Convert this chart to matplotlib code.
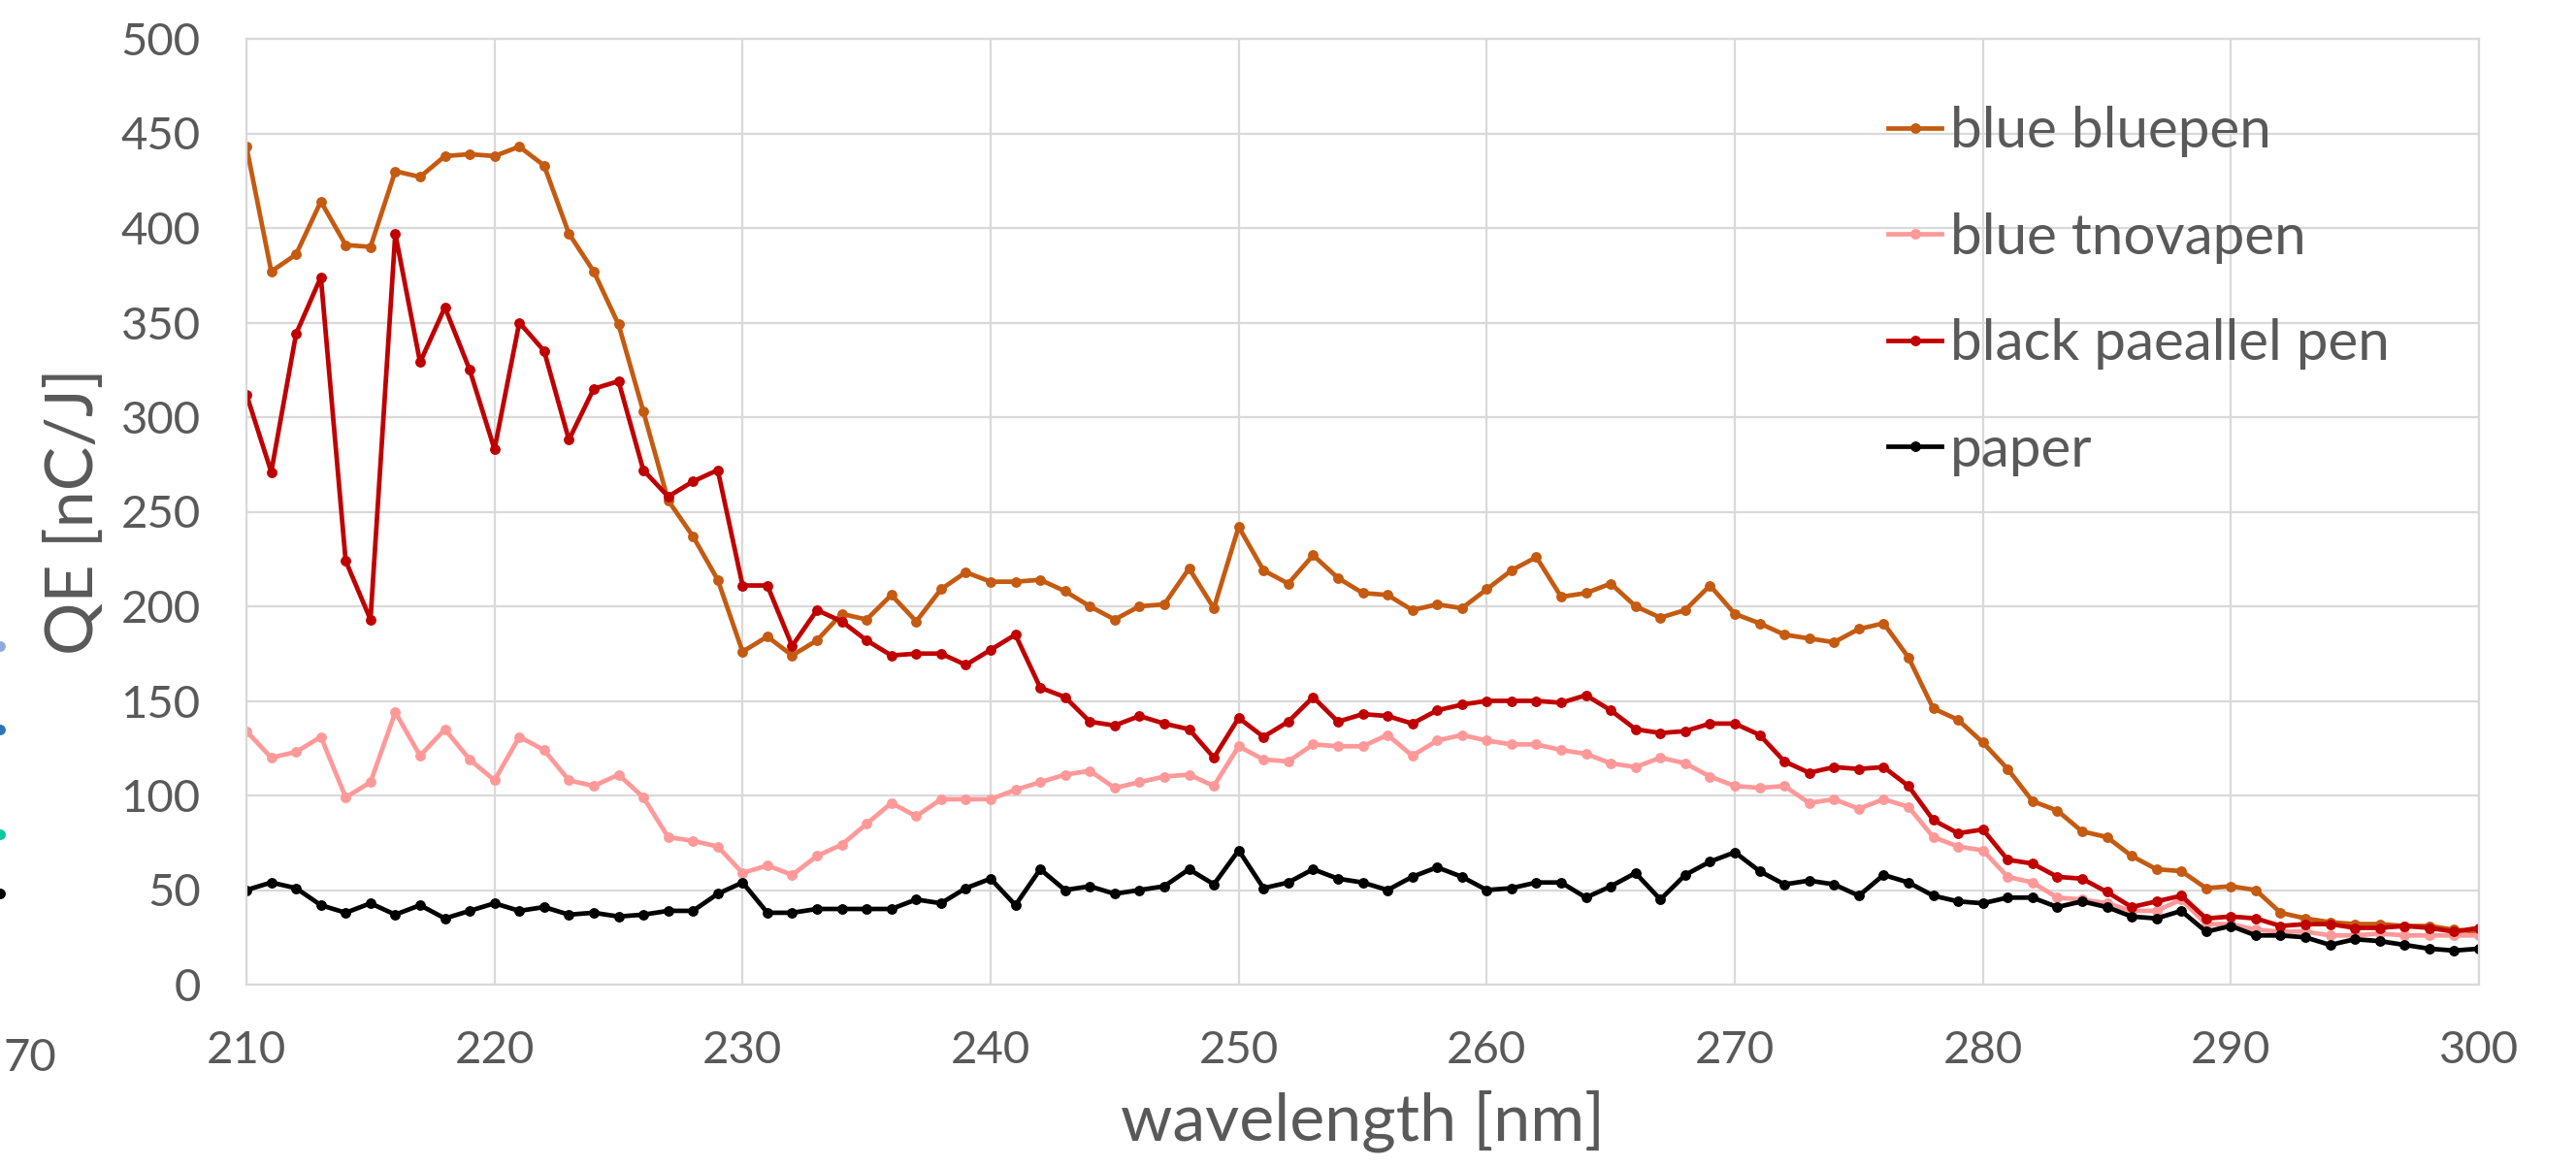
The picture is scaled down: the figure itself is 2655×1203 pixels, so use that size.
import numpy as np
import matplotlib
matplotlib.use("Agg")
import matplotlib.pyplot as plt
from matplotlib.lines import Line2D

plt.rcParams["font.family"] = ["Lato", "DejaVu Sans"]

TEXT_COLOR = "#595959"
GRID_COLOR = "#D9D9D9"

wavelength = list(range(210, 301))

blue_bluepen = [
    443, 377, 386, 414, 391, 390, 430, 427, 438, 439,
    438, 443, 433, 397, 377, 349, 303, 256, 237, 214,
    176, 184, 174, 182, 196, 193, 206, 192, 209, 218,
    213, 213, 214, 208, 200, 193, 200, 201, 220, 199,
    242, 219, 212, 227, 215, 207, 206, 198, 201, 199,
    209, 219, 226, 205, 207, 212, 200, 194, 198, 211,
    196, 191, 185, 183, 181, 188, 191, 173, 146, 140,
    128, 114, 97, 92, 81, 78, 68, 61, 60, 51,
    52, 50, 38, 35, 33, 32, 32, 31, 31, 29,
    28,
]

blue_tnovapen = [
    134, 120, 123, 131, 99, 107, 144, 121, 135, 119,
    108, 131, 124, 108, 105, 111, 99, 78, 76, 73,
    59, 63, 58, 68, 74, 85, 96, 89, 98, 98,
    98, 103, 107, 111, 113, 104, 107, 110, 111, 105,
    126, 119, 118, 127, 126, 126, 132, 121, 129, 132,
    129, 127, 127, 124, 122, 117, 115, 120, 117, 110,
    105, 104, 105, 96, 98, 93, 98, 94, 78, 73,
    71, 57, 54, 46, 45, 43, 39, 39, 45, 32,
    32, 29, 28, 28, 26, 26, 27, 26, 26, 26,
    26,
]

black_parallel_pen = [
    312, 271, 344, 374, 224, 193, 397, 329, 358, 325,
    283, 350, 335, 288, 315, 319, 272, 258, 266, 272,
    211, 211, 179, 198, 192, 182, 174, 175, 175, 169,
    177, 185, 157, 152, 139, 137, 142, 138, 135, 120,
    141, 131, 139, 152, 139, 143, 142, 138, 145, 148,
    150, 150, 150, 149, 153, 145, 135, 133, 134, 138,
    138, 132, 118, 112, 115, 114, 115, 105, 87, 80,
    82, 66, 64, 57, 56, 49, 41, 44, 47, 35,
    36, 35, 31, 32, 32, 30, 30, 31, 30, 28,
    30,
]

paper = [
    50, 54, 51, 42, 38, 43, 37, 42, 35, 39,
    43, 39, 41, 37, 38, 36, 37, 39, 39, 48,
    54, 38, 38, 40, 40, 40, 40, 45, 43, 51,
    56, 42, 61, 50, 52, 48, 50, 52, 61, 53,
    71, 51, 54, 61, 56, 54, 50, 57, 62, 57,
    50, 51, 54, 54, 46, 52, 59, 45, 58, 65,
    70, 60, 53, 55, 53, 47, 58, 54, 47, 44,
    43, 46, 46, 41, 44, 41, 36, 35, 39, 28,
    31, 26, 26, 25, 21, 24, 23, 21, 19, 18,
    19,
]

series = [
    ("blue bluepen", blue_bluepen, "#C55A11"),
    ("blue tnovapen", blue_tnovapen, "#FF9999"),
    ("black paeallel pen", black_parallel_pen, "#C00000"),
    ("paper", paper, "#000000"),
]

W, H = 2655, 1203
fig = plt.figure(figsize=(W / 100, H / 100), dpi=100)
ax = fig.add_axes([254 / W, 1 - 1015 / H, (2555 - 254) / W, (1015 - 40) / H])

for label, values, color in series:
    ax.plot(wavelength, values, color=color, lw=3.4, marker="o", ms=6.8,
            label=label, solid_joinstyle="round")

ax.set_xlim(210, 300)
ax.set_ylim(0, 500)
ax.set_xticks(np.arange(210, 301, 10))
ax.set_yticks(np.arange(0, 501, 50))
ax.grid(True, color=GRID_COLOR, lw=1.6)
ax.set_axisbelow(True)
for side in ["left", "right", "top", "bottom"]:
    ax.spines[side].set_color(GRID_COLOR)
    ax.spines[side].set_linewidth(1.6)
ax.tick_params(axis="both", length=0, labelsize=34, labelcolor=TEXT_COLOR)
ax.tick_params(axis="x", pad=34)
ax.tick_params(axis="y", pad=34)

ax.set_xlabel("wavelength [nm]", fontsize=49, color=TEXT_COLOR, labelpad=14)
ax.set_ylabel("QE [nC/J]", fontsize=49, color=TEXT_COLOR, labelpad=12)

ax.legend(loc="center left", bbox_to_anchor=(1946 / W, 1 - 300 / H),
          bbox_transform=fig.transFigure, frameon=False, fontsize=42,
          labelcolor=TEXT_COLOR, handlelength=0.95, handletextpad=0.15,
          labelspacing=0.97, borderpad=0, borderaxespad=0)
for h in ax.get_legend().get_lines():
    h.set_linewidth(3.4)

# edge of a neighbouring chart that is cut off on the left
fig.text(3 / W, 1 - 1091 / H, "70", ha="left", va="center",
         fontsize=34, color=TEXT_COLOR)
for yy, c in [(666, "#8FAADC"), (752, "#2E75B6"), (860, "#00C8A0"), (921, "#000000")]:
    fig.add_artist(Line2D([0], [1 - yy / H], transform=fig.transFigure,
                          marker="o", ms=6.8, color=c, lw=0))

fig.savefig("out.png", dpi=100)
